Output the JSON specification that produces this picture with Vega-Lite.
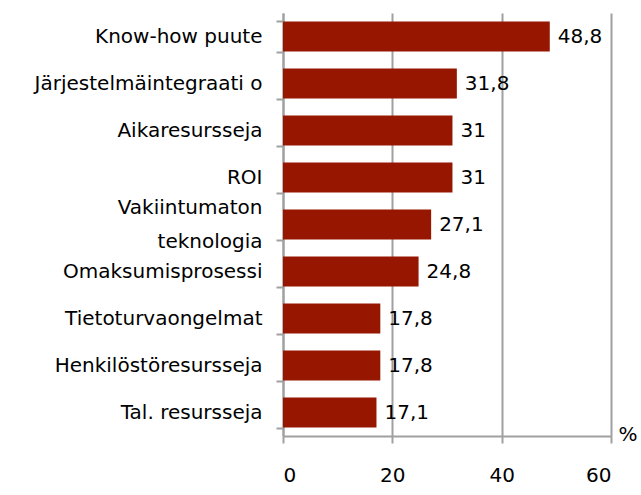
{
  "$schema": "https://vega.github.io/schema/vega-lite/v6.json",
  "width": 328,
  "height": 423,
  "autosize": {"type": "none"},
  "padding": {"left": 283, "top": 13, "right": 30, "bottom": 59},
  "background": "white",
  "config": {
    "view": {"stroke": null},
    "font": "DejaVu Sans",
    "locale": {"number": {"decimal": ",", "thousands": " ", "grouping": [3], "currency": ["", " €"]}}
  },
  "data": {
    "values": [
      {"category": "Know-how puute", "value": 48.8},
      {"category": "Järjestelmäintegraati o", "value": 31.8},
      {"category": "Aikaresursseja", "value": 31},
      {"category": "ROI", "value": 31},
      {"category": "Vakiintumaton|teknologia\u00a0\u00a0\u00a0\u00a0", "value": 27.1},
      {"category": "Omaksumisprosessi", "value": 24.8},
      {"category": "Tietoturvaongelmat", "value": 17.8},
      {"category": "Henkilöstöresursseja", "value": 17.8},
      {"category": "Tal. resursseja", "value": 17.1}
    ]
  },
  "encoding": {
    "y": {
      "field": "category",
      "type": "nominal",
      "sort": null,
      "scale": {"paddingInner": 0.36, "paddingOuter": 0.18},
      "axis": {
        "title": null,
        "labelExpr": "split(datum.label, '|')",
        "labelLineHeight": 34,
        "labelBaseline": {"condition": {"test": "datum.value === 'Vakiintumaton|teknologia\u00a0\u00a0\u00a0\u00a0'", "value": "line-bottom"}, "value": "middle"},
        "labelFontSize": 20,
        "labelLimit": 400,
        "labelColor": "#000000",
        "labelPadding": 14,
        "tickBand": "extent",
        "tickSize": 7,
        "tickColor": "#a0a0a0",
        "tickWidth": 2,
        "domainColor": "#a0a0a0",
        "domainWidth": 2,
        "grid": false
      }
    }
  },
  "layer": [
    {
      "mark": {"type": "bar", "color": "#961600"},
      "encoding": {
        "x": {
          "field": "value",
          "type": "quantitative",
          "scale": {"domain": [0, 60], "nice": false},
          "axis": {
            "values": [0, 20, 40, 60],
            "title": "%",
            "titleFontSize": 20,
            "titleFontWeight": "normal",
            "titleColor": "#000000",
            "titleAnchor": "start",
            "titleAlign": "left",
            "titleBaseline": "middle",
            "titleX": 335,
            "titleY": -2,
            "labelFontSize": 20,
            "labelColor": "#000000",
            "labelPadding": 22,
            "tickSize": 7,
            "tickColor": "#a0a0a0",
            "tickWidth": 2,
            "domainColor": "#a0a0a0",
            "domainWidth": 2,
            "gridColor": "#a0a0a0",
            "gridWidth": 2,
            "gridOpacity": 1
          }
        }
      }
    },
    {
      "mark": {"type": "text", "align": "left", "baseline": "middle", "dx": 8, "fontSize": 20, "color": "#000000"},
      "encoding": {
        "x": {"field": "value", "type": "quantitative"},
        "text": {"field": "value", "type": "quantitative", "format": ".1~f"}
      }
    }
  ]
}
